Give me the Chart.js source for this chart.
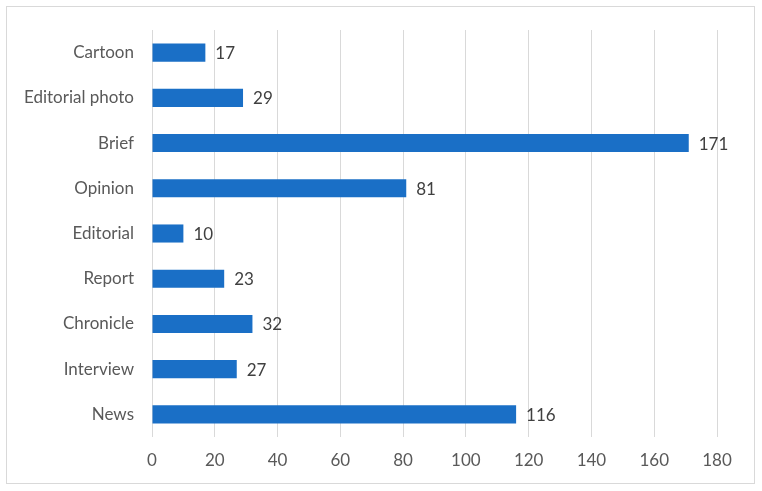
<!DOCTYPE html>
<html>
<head>
<meta charset="utf-8">
<script src="https://cdn.jsdelivr.net/npm/chart.js@4/dist/chart.umd.min.js"></script>
<style>
  html, body { margin: 0; padding: 0; background: #fff; }
  #wrap { position: relative; width: 762px; height: 491px; }
  #frame { position: absolute; left: 6px; top: 6px; width: 749px; height: 478px; border: 1px solid #d9d9d9; box-sizing: border-box; }
  canvas { position: absolute; left: 0; top: 0; }
</style>
</head>
<body>
<div id="wrap">
  <div id="frame"></div>
  <canvas id="typesChart" width="762" height="491"></canvas>
</div>
<script>
(function() {
  'use strict';

  // data, top to bottom
  var categories = ["Cartoon", "Editorial photo", "Brief", "Opinion", "Editorial", "Report", "Chronicle", "Interview", "News"];
  var counts = [17, 29, 171, 81, 10, 23, 32, 27, 116];
  var xTicks = [0, 20, 40, 60, 80, 100, 120, 140, 160, 180];

  var font = "Lato, 'Open Sans', sans-serif";

  // value labels just right of each bar end
  var valueLabels = {
    id: 'valueLabels',
    afterDatasetsDraw: function(chart) {
      var ctx = chart.ctx;
      var meta = chart.getDatasetMeta(0);
      ctx.save();
      ctx.font = '17px ' + font;
      ctx.fillStyle = '#404040';
      ctx.textAlign = 'left';
      ctx.textBaseline = 'middle';
      meta.data.forEach(function(bar, i) {
        ctx.fillText(String(counts[i]), bar.x + 10, bar.y + 1);
      });
      ctx.restore();
    }
  };

  new Chart(document.getElementById('typesChart'), {
    type: 'bar',
    data: {
      labels: categories,
      datasets: [
        {
          label: "Count",
          backgroundColor: "#1a6fc6",
          borderWidth: 0,
          data: counts,
          barPercentage: 0.8,
          categoryPercentage: 0.5
        }
      ]
    },
    options: {
      indexAxis: 'y',
      responsive: false,
      animation: false,
      layout: { padding: { top: 30, right: 45, left: 0, bottom: 0 } },
      plugins: {
        legend: { display: false },
        tooltip: { enabled: false }
      },
      scales: {
        x: {
          min: 0,
          max: 180,
          afterBuildTicks: function(scale) {
            scale.ticks = xTicks.map(function(v) { return { value: v }; });
          },
          afterFit: function(scale) { scale.height = 54; },
          grid: { color: '#d9d9d9', lineWidth: 1, drawTicks: false },
          border: { display: false },
          ticks: { color: '#595959', padding: 13, font: { family: font, size: 17 } }
        },
        y: {
          afterFit: function(scale) { scale.width = 152; },
          grid: { display: false },
          border: { display: false },
          ticks: { color: '#595959', padding: 10, font: { family: font, size: 17 } }
        }
      }
    },
    plugins: [valueLabels]
  });
})();
</script>
</body>
</html>
